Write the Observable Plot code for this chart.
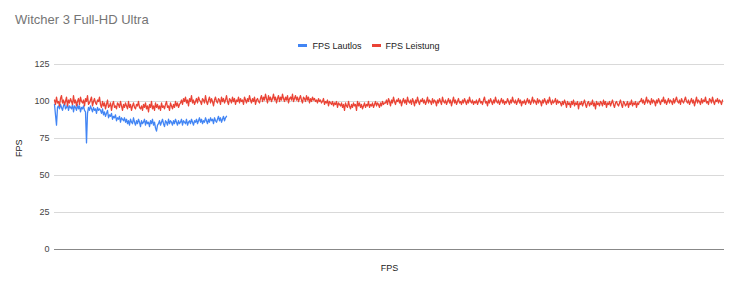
<!DOCTYPE html>
<html>
<head>
<meta charset="utf-8">
<script src="https://cdn.jsdelivr.net/npm/d3@7"></script>
<script src="https://cdn.jsdelivr.net/npm/@observablehq/plot@0.6"></script>
<style>
  body { margin: 0; background: #fff; font-family: "Liberation Sans", Arial, sans-serif; }
  #wrap { position: relative; width: 738px; height: 290px; overflow: hidden; }
  #title { position: absolute; left: 15px; top: 12px; font-size: 13px; color: #757575; }
  #legend { position: absolute; left: 0; width: 738px; top: 39px; text-align: center; font-size: 9px; color: #222; }
  #legend span.item { display: inline-flex; align-items: center; margin: 0 5px; }
  #legend span.sw { display: inline-block; width: 9px; height: 3px; margin-right: 5px; }
  #chart { position: absolute; left: 0; top: 55px; }
</style>
</head>
<body>
<div id="wrap">
  <div id="title">Witcher 3 Full-HD Ultra</div>
  <div id="legend"></div>
  <div id="chart"></div>
</div>
<script>
// Series names and colours
const seriesNames = ["FPS Lautlos", "FPS Leistung"];
const seriesColors = ["#4285F4", "#EA4335"];
const yTicks = [0, 25, 50, 75, 100, 125];

// Frame rate log, "Lautlos" profile (shorter run)
const fpsLautlos = [
  98,91,84,96,
  97,95,98,96,94,97,99,95,96,98,94,97,96,95,98,93,97,96,94,98,95,97,93,96,95,97,94,
  93,72,92,
  96,94,97,95,93,96,94,95,92,96,94,95,
  94,92,95,91,93,90,92,94,89,91,90,92,88,90,89,91,87,89,88,90,86,89,88,87,89,
  86,88,85,87,84,88,86,85,89,86,84,87,85,88,86,83,87,85,86,88,84,87,85,86,83,87,85,88,84,86,
  82,80,84,
  85,87,84,86,88,85,83,87,86,84,88,85,87,86,84,87,85,88,86,84,87,85,86,88,84,87,86,85,88,84,86,87,85,88,86,84,87,
  86,88,85,87,89,86,88,85,87,86,89,87,85,88,86,89,87,88,85,89,87,86,88,90,87,89,86,88,90,87,89,90
];

// Frame rate log, "Leistung" profile
const fpsLeistung = [
  101,98,103,99,100,97,102,104,99,101,98,100,103,97,101,99,102,100,98,104,
  99,101,97,100,102,98,103,100,99,101,97,102,100,104,98,99,101,103,97,100,
  102,99,98,101,100,103,
  98,96,100,97,99,95,98,101,96,97,99,94,98,100,96,97,95,99,98,96,
  100,97,94,98,96,99,97,95,100,96,98,94,97,99,96,95,98,97,100,96,
  95,97,94,98,96,99,95,97,93,98,96,100,95,97,94,99,96,98,95,97,
  94,99,96,97,95,98,100,96,97,94,99,97,95,98,96,100,97,99,96,98,
  99,101,98,102,100,103,99,101,97,102,100,104,99,101,98,100,102,99,103,101,
  100,98,102,101,99,104,100,98,101,103,99,102,100,97,101,103,100,99,102,101,
  98,103,100,102,99,101,104,100,98,102,101,99,103,100,102,98,101,100,103,99,
  102,100,101,98,103,101,99,102,100,104,101,99,102,100,103,98,101,102,100,99,
  102,104,100,103,101,105,102,99,104,101,103,100,102,105,101,103,99,102,104,100,
  103,101,105,102,100,103,101,104,99,102,103,101,105,100,102,104,101,103,100,102,
  104,101,99,103,102,100,104,101,103,99,102,100,103,101,102,100,101,99,102,100,
  101,99,100,102,98,100,99,101,97,100,99,98,100,97,99,98,100,96,99,98,
  97,99,96,98,94,99,97,96,100,97,95,98,96,99,97,98,94,100,97,99,
  96,98,95,97,99,96,98,97,100,96,98,97,99,96,98,100,97,99,98,96,
  99,97,100,98,99,
  99,101,98,102,100,97,101,99,103,100,98,101,100,102,99,101,97,100,102,99,
  101,98,103,100,99,101,98,102,100,97,101,99,103,100,98,101,100,102,99,101,
  98,100,103,99,101,100,98,102,99,101,100,97,101,99,102,100,98,103,100,99,
  101,98,100,102,99,101,97,100,103,99,101,98,100,102,99,100,98,101,99,102,
  100,98,101,99,103,100,99,101,98,100,
  99,101,98,100,102,99,100,98,101,103,99,100,97,101,99,102,100,98,101,99,
  103,100,99,101,98,100,102,99,101,98,100,99,102,100,98,101,99,103,100,99,
  101,98,100,102,99,101,97,100,99,101,98,100,102,99,101,98,100,103,99,101,
  100,98,102,99,101,100,97,101,99,102,100,98,101,99,103,100,98,101,99,100,
  102,98,101,99,100,
  99,97,100,98,101,99,96,100,98,99,96,100,98,101,97,99,98,100,95,99,
  98,100,97,99,101,98,96,99,100,97,99,98,101,97,99,95,100,98,99,97,
  100,99,97,101,98,100,96,99,98,100,97,99,101,98,96,99,100,98,97,99,
  101,98,96,100,99,97,98,100,96,99,98,101,97,99,98,100,96,99,98,100,
  100,102,99,101,98,100,103,99,101,100,98,102,99,101,100,97,101,99,102,100,
  98,101,100,103,99,101,98,100,102,99,101,100,98,102,99,101,103,100,99,101,
  98,102,100,99,101,103,100,99,101,98,100,102,99,101,97,100,103,99,101,100,
  98,102,99,101,100,103,99,100,98,102,101,99,103,100,98,101,100,102,99,101,
  100,98,101
];

// Legend
const legend = document.getElementById("legend");
seriesNames.forEach((name, i) => {
  const item = document.createElement("span");
  item.className = "item";
  const sw = document.createElement("span");
  sw.className = "sw";
  sw.style.background = seriesColors[i];
  item.appendChild(sw);
  item.appendChild(document.createTextNode(name));
  legend.appendChild(item);
});

// Long-format rows: one per sample
const rows = [
  ...fpsLautlos.map((v, i) => ({sample: i, fps: v, series: seriesNames[0]})),
  ...fpsLeistung.map((v, i) => ({sample: i, fps: v, series: seriesNames[1]}))
];

const chart = Plot.plot({
  width: 738,
  height: 235,
  marginLeft: 54,
  marginRight: 14,
  marginTop: 9,
  marginBottom: 41,
  style: {fontFamily: "Liberation Sans, Arial, sans-serif", fontSize: "9px", color: "#444", background: "#fff"},
  x: {domain: [0, fpsLeistung.length + 1], axis: null},
  y: {domain: [0, 125], ticks: yTicks, label: null},
  color: {domain: seriesNames, range: seriesColors},
  marks: [
    Plot.ruleY(yTicks.filter(d => d > 0), {stroke: "#d9d9d9", strokeWidth: 1}),
    Plot.axisY({ticks: yTicks, tickSize: 0, tickPadding: 5, label: null, fill: "#444"}),
    Plot.lineY(rows, {x: "sample", y: "fps", z: "series", stroke: "series", strokeWidth: 1.3}),
    Plot.ruleY([0], {stroke: "#888", strokeWidth: 1}),
    Plot.text(["FPS"], {frameAnchor: "bottom", dy: 21, fill: "#222", fontSize: 9}),
    Plot.text(["FPS"], {frameAnchor: "left", dx: -35, rotate: -90, fill: "#222", fontSize: 9})
  ]
});
document.getElementById("chart").appendChild(chart);
</script>
</body>
</html>
